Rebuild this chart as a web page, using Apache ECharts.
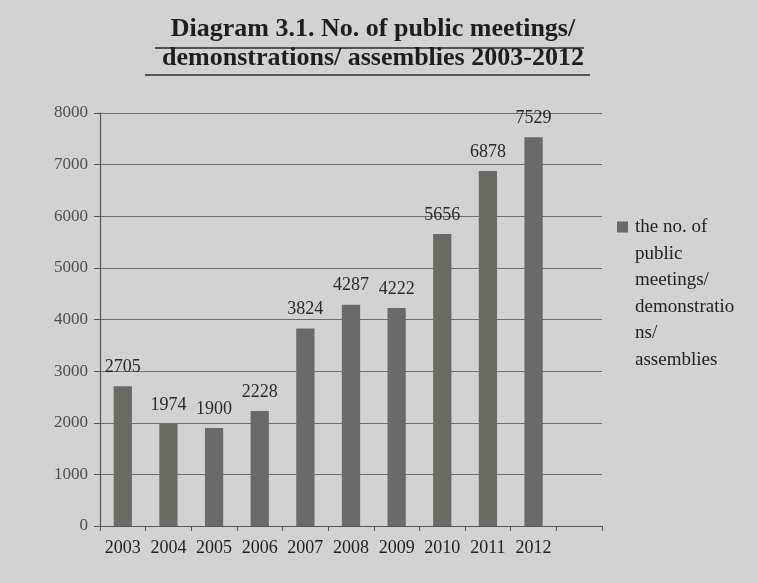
<!DOCTYPE html>
<html>
<head>
<meta charset="utf-8">
<script src="https://cdn.jsdelivr.net/npm/echarts@6/dist/echarts.min.js"></script>
<style>
  html, body { margin: 0; padding: 0; background: #d2d3ce; }
  #chart { width: 758px; height: 583px; }
</style>
</head>
<body>
<div id="chart"></div>
<script>
// values
const years = ['2003', '2004', '2005', '2006', '2007', '2008', '2009', '2010', '2011', '2012', ''];
const meetings = [2705, 1974, 1900, 2228, 3824, 4287, 4222, 5656, 6878, 7529, null];
const yTicks = [0, 1000, 2000, 3000, 4000, 5000, 6000, 7000, 8000];

const seriesName = 'the no. of\npublic\nmeetings/\ndemonstratio\nns/\nassemblies';
const serif = '"Liberation Serif", "DejaVu Serif", serif';

const chart = echarts.init(document.getElementById('chart'));

chart.setOption({
  backgroundColor: '#d2d3ce',
  textStyle: { fontFamily: serif },
  title: {
    text: 'Diagram 3.1. No. of public meetings/\ndemonstrations/ assemblies 2003-2012',
    left: 368,
    top: 10,
    textAlign: 'center',
    textStyle: {
      fontFamily: serif,
      fontSize: 26,
      fontWeight: 'bold',
      color: '#1e1e1c',
      lineHeight: 29
    }
  },
  graphic: [
    { type: 'line', shape: { x1: 155, y1: 48, x2: 584, y2: 48 }, style: { stroke: '#2a2a28', lineWidth: 1.5 } },
    { type: 'line', shape: { x1: 145, y1: 75, x2: 590, y2: 75 }, style: { stroke: '#2a2a28', lineWidth: 1.5 } }
  ],
  legend: {
    orient: 'vertical',
    left: 617,
    top: 214,
    padding: 0,
    itemWidth: 11,
    itemHeight: 159,
    itemGap: 0,
    icon: 'path://M0,0h0.01v0.01h-0.01z M0,7h11v11h-11z M0,158h0.01v0.01h-0.01z',
    textStyle: {
      fontFamily: serif,
      fontSize: 19,
      color: '#222220',
      lineHeight: 26.5,
      padding: [0, 0, 0, 2]
    }
  },
  grid: {
    left: 100,
    right: 156,
    top: 113,
    bottom: 57,
    containLabel: false
  },
  xAxis: {
    type: 'category',
    data: years,
    axisLine: { lineStyle: { color: '#555753', width: 1.2 } },
    axisTick: { show: true, length: 5, interval: 0, alignWithLabel: false, lineStyle: { color: '#555753' } },
    axisLabel: { interval: 0, fontFamily: serif, fontSize: 18, color: '#222220', margin: 13 }
  },
  yAxis: {
    type: 'value',
    min: yTicks[0],
    max: yTicks[yTicks.length - 1],
    interval: 1000,
    axisLine: { show: true, lineStyle: { color: '#555753', width: 1.2 } },
    axisTick: { show: true, length: 6, lineStyle: { color: '#555753' } },
    axisLabel: {
      fontFamily: serif,
      fontSize: 17,
      color: '#4e4f4b',
      margin: 12,
      formatter: (v) => String(v)
    },
    splitLine: { lineStyle: { color: '#6e706b', width: 1 } }
  },
  series: [{
    name: seriesName,
    type: 'bar',
    data: meetings,
    barWidth: '40%',
    itemStyle: { color: '#696c65' },
    label: {
      show: true,
      position: 'top',
      distance: 10,
      fontFamily: serif,
      fontSize: 18,
      color: '#2a2a28'
    }
  }]
});
</script>
</body>
</html>
